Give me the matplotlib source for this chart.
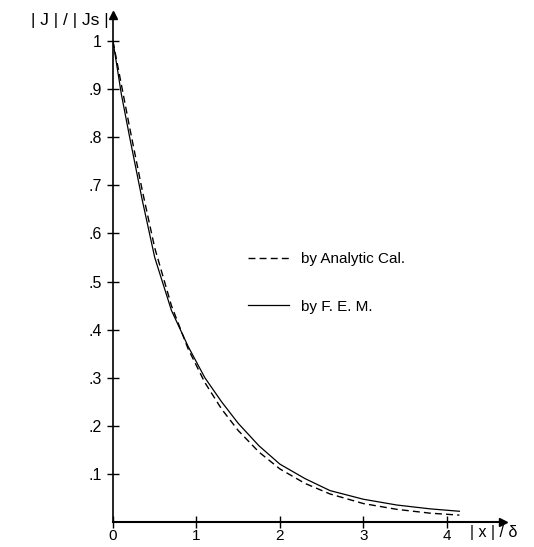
import matplotlib.pyplot as plt

# Normalised current density vs normalised depth
x_analytic = [0, 0.1, 0.2, 0.35, 0.5, 0.7, 0.9, 1.1, 1.3, 1.5, 1.75, 2.0, 2.3, 2.6, 3.0, 3.4, 3.8, 4.15]
j_analytic = [1.0, 0.91, 0.82, 0.69, 0.57, 0.45, 0.36, 0.29, 0.235, 0.19, 0.145, 0.11, 0.08, 0.058, 0.038, 0.026, 0.018, 0.014]

x_fem = [0, 0.1, 0.2, 0.35, 0.5, 0.7, 0.9, 1.1, 1.3, 1.5, 1.75, 2.0, 2.3, 2.6, 3.0, 3.4, 3.8, 4.15]
j_fem = [1.0, 0.89, 0.80, 0.67, 0.55, 0.44, 0.365, 0.30, 0.25, 0.205, 0.158, 0.12, 0.09, 0.065, 0.047, 0.035, 0.027, 0.022]

x_ticks = [0, 1, 2, 3, 4]
x_ticklabels = ["0", "1", "2", "3", "4"]
y_ticks = [0.1, 0.2, 0.3, 0.4, 0.5, 0.6, 0.7, 0.8, 0.9, 1.0]
y_ticklabels = [".1", ".2", ".3", ".4", ".5", ".6", ".7", ".8", ".9", "1"]

plt.rcParams['font.family'] = ['Liberation Sans', 'DejaVu Sans']

fig = plt.figure(figsize=(5.34, 5.47), dpi=100)
ax = fig.add_axes([0.2116, 0.046, 0.730, 0.926])

ax.plot(x_analytic, j_analytic, color='black', lw=1.0, ls=(0, (5, 3)), label='by Analytic Cal.')
ax.plot(x_fem, j_fem, color='black', lw=0.9, label='by F. E. M.')

ax.set_xlim(0, 4.67)
ax.set_ylim(0, 1.054)
ax.spines['top'].set_visible(False)
ax.spines['right'].set_visible(False)
ax.spines['left'].set_linewidth(1.2)
ax.spines['bottom'].set_linewidth(1.5)

# axis arrows
ax.plot(1, 0, ">k", markersize=6, transform=ax.get_yaxis_transform(), clip_on=False)
ax.plot(0, 1, "^k", markersize=6, transform=ax.get_xaxis_transform(), clip_on=False)

ax.set_xticks(x_ticks)
ax.set_xticklabels(x_ticklabels)
ax.set_yticks(y_ticks)
ax.set_yticklabels(y_ticklabels)
ax.tick_params(direction='inout', length=8, width=1, labelsize=11.5, pad=4)
ax.tick_params(axis='x', labelsize=11, pad=1)

ax.text(0.915, -0.006, "| x | / δ", transform=ax.transAxes, fontsize=11.5,
        ha='left', va='top')
ax.text(-0.012, 0.99, "| J | / | Js |", transform=ax.transAxes, fontsize=12.5,
        ha='right', va='center')

ax.legend(loc='upper left', bbox_to_anchor=(0.31, 0.56), frameon=False,
          fontsize=11, handlelength=2.7, handletextpad=0.8, labelspacing=2.2)

plt.savefig('out.png', dpi=100)
